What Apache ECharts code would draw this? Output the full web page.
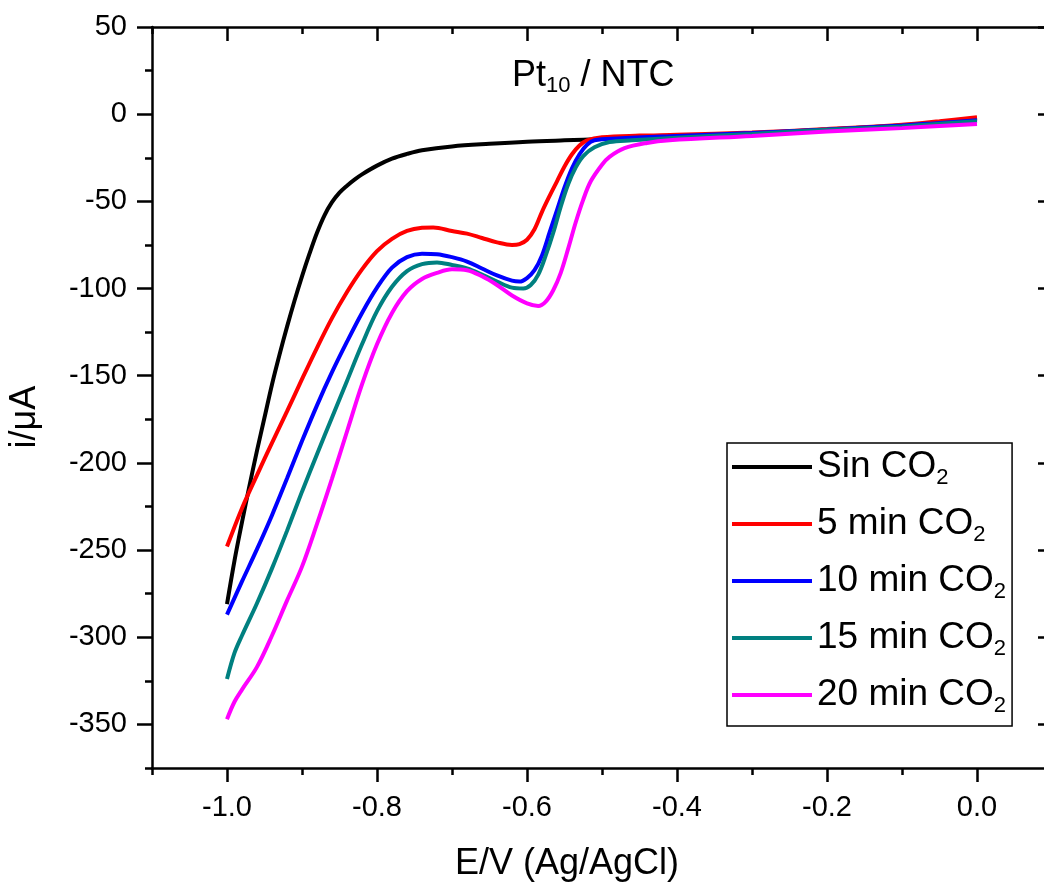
<!DOCTYPE html>
<html>
<head>
<meta charset="utf-8">
<script src="https://cdn.jsdelivr.net/npm/echarts@6/dist/echarts.min.js"></script>
<style>
  html, body { margin: 0; padding: 0; background: #ffffff; }
  #chart { width: 1044px; height: 883px; }
</style>
</head>
<body>
<div id="chart"></div>
<script>
// Linear sweep voltammograms of Pt10 / NTC under increasing CO2 bubbling time.
const FONT = '"Liberation Sans", Arial, sans-serif';

const seriesNames = ['Sin CO2', '5 min CO2', '10 min CO2', '15 min CO2', '20 min CO2'];
const seriesColors = ['#000000', '#ff0000', '#0000ff', '#008080', '#ff00ff'];

// [E (V vs Ag/AgCl), i (µA)]
const sinCO2 = [
  [-1.0, -281], [-0.99, -256], [-0.98, -234], [-0.97, -213], [-0.96, -193],
  [-0.95, -174], [-0.94, -155], [-0.93, -138], [-0.92, -122], [-0.91, -107],
  [-0.90, -93], [-0.89, -80], [-0.88, -68], [-0.87, -58], [-0.86, -50.5],
  [-0.85, -45], [-0.84, -41], [-0.83, -37.5], [-0.82, -34.5], [-0.80, -29.5],
  [-0.78, -25.5], [-0.76, -22.8], [-0.74, -20.7], [-0.70, -18.5], [-0.65, -17],
  [-0.60, -15.8], [-0.55, -15], [-0.50, -14.3], [-0.40, -12.8], [-0.30, -11],
  [-0.20, -8.8], [-0.10, -6.5], [-0.05, -5], [0.0, -2.5]
];
const co2_5min = [
  [-1.0, -248], [-0.98, -226], [-0.96, -207], [-0.94, -188.5], [-0.92, -170.5],
  [-0.90, -152], [-0.88, -134], [-0.86, -117], [-0.84, -102], [-0.82, -89],
  [-0.80, -78.5], [-0.78, -71.5], [-0.76, -67], [-0.74, -65.2], [-0.725, -65],
  [-0.70, -67], [-0.68, -68.5], [-0.66, -71], [-0.64, -73.5], [-0.62, -75],
  [-0.61, -74.5], [-0.60, -72], [-0.59, -66], [-0.58, -56], [-0.57, -47],
  [-0.56, -38.5], [-0.55, -30], [-0.54, -23], [-0.53, -18], [-0.52, -15],
  [-0.50, -13.2], [-0.45, -12.3], [-0.40, -11.8], [-0.30, -10.5], [-0.20, -8.5],
  [-0.10, -6], [-0.05, -4], [0.0, -1.7]
];
const co2_10min = [
  [-1.0, -287], [-0.98, -268], [-0.96, -249.5], [-0.94, -230], [-0.92, -209],
  [-0.90, -187.5], [-0.88, -167], [-0.86, -148], [-0.84, -130.5], [-0.82, -114],
  [-0.80, -99.5], [-0.78, -88], [-0.76, -82], [-0.74, -80], [-0.72, -80.3],
  [-0.70, -82], [-0.68, -84.5], [-0.66, -88.5], [-0.64, -92.5], [-0.62, -95.5],
  [-0.61, -96], [-0.60, -94], [-0.59, -89.5], [-0.58, -81], [-0.57, -68],
  [-0.56, -55], [-0.55, -42], [-0.54, -31], [-0.53, -23], [-0.52, -17.5],
  [-0.51, -15], [-0.48, -14], [-0.40, -12.5], [-0.30, -10.8], [-0.20, -8.8],
  [-0.10, -6.5], [-0.05, -5], [0.0, -3.5]
];
const co2_15min = [
  [-1.0, -324], [-0.99, -309], [-0.98, -299], [-0.96, -280.5], [-0.94, -260.5],
  [-0.92, -239], [-0.90, -216.5], [-0.88, -195], [-0.86, -174], [-0.84, -153],
  [-0.82, -132], [-0.80, -113], [-0.78, -99], [-0.76, -90], [-0.74, -86],
  [-0.72, -85], [-0.70, -86.5], [-0.68, -88.5], [-0.66, -92], [-0.64, -96],
  [-0.62, -99.5], [-0.605, -100], [-0.595, -98], [-0.585, -92], [-0.575, -81],
  [-0.565, -68], [-0.555, -53], [-0.545, -40], [-0.535, -30.5], [-0.525, -24],
  [-0.51, -19], [-0.49, -16], [-0.46, -15], [-0.40, -13.5], [-0.30, -11.3],
  [-0.20, -9], [-0.10, -7], [-0.05, -5.5], [0.0, -4]
];
const co2_20min = [
  [-1.0, -347], [-0.99, -337], [-0.98, -330], [-0.96, -317], [-0.94, -299],
  [-0.92, -279], [-0.90, -259.5], [-0.88, -235], [-0.86, -209], [-0.84, -182],
  [-0.82, -155], [-0.80, -132], [-0.78, -114], [-0.76, -101.5], [-0.74, -94.5],
  [-0.72, -91], [-0.70, -89], [-0.68, -89.5], [-0.66, -93], [-0.64, -98],
  [-0.62, -104], [-0.60, -108.5], [-0.585, -110], [-0.575, -107.5], [-0.565, -101],
  [-0.555, -91], [-0.545, -77], [-0.535, -62], [-0.525, -49], [-0.515, -38.5],
  [-0.50, -29], [-0.49, -24.5], [-0.47, -19.5], [-0.44, -16.5], [-0.41, -15],
  [-0.30, -12.5], [-0.20, -10], [-0.10, -8], [-0.05, -6.8], [0.0, -5.7]
];
const seriesValues = [sinCO2, co2_5min, co2_10min, co2_15min, co2_20min];

// Axis ranges and tick positions
const xRange = [-1.1, 0.1];
const yRange = [-375, 50];
const xMajorTicks = [-1.0, -0.8, -0.6, -0.4, -0.2, 0.0];
const xMinorTicks = [-1.1, -0.9, -0.7, -0.5, -0.3, -0.1, 0.1];
const yMajorTicks = [-350, -300, -250, -200, -150, -100, -50, 0, 50];
const yMinorTicks = [-375, -325, -275, -225, -175, -125, -75, -25, 25];

const chart = echarts.init(document.getElementById('chart'), null, { renderer: 'canvas' });

const AXIS_W = 2.5;
function makeAxis(kind, position, ticks, tickLen, inside, showLine, labelOpts) {
  const range = kind === 'x' ? xRange : yRange;
  return {
    type: 'value',
    position: position,
    min: range[0],
    max: range[1],
    scale: true,
    axisLine: { show: showLine, onZero: false, lineStyle: { color: '#000', width: AXIS_W } },
    axisTick: {
      show: true, inside: inside, length: tickLen, customValues: ticks,
      lineStyle: { color: '#000', width: AXIS_W }
    },
    minorTick: { show: false },
    splitLine: { show: false },
    axisLabel: labelOpts ? Object.assign({ customValues: ticks }, labelOpts) : { show: false }
  };
}

const xLabel = {
  show: true, color: '#000', fontFamily: FONT, fontSize: 29, margin: 25,
  formatter: v => v.toFixed(1)
};
const yLabel = {
  show: true, color: '#000', fontFamily: FONT, fontSize: 29, margin: 25,
  formatter: v => String(Math.round(v))
};

const subRich = (size) => ({
  sub: { fontFamily: FONT, fontSize: size, lineHeight: 1, verticalAlign: 'bottom', color: '#000' }
});

const option = {
  backgroundColor: '#ffffff',
  animation: false,
  grid: {
    left: 152, top: 27, width: 900, height: 741,
    containLabel: false, outerBoundsMode: 'none'
  },
  xAxis: [
    makeAxis('x', 'bottom', xMajorTicks, 14, false, true, xLabel),
    makeAxis('x', 'bottom', xMinorTicks, 7, false, false, null),
    makeAxis('x', 'top', xMajorTicks, 14, true, true, null),
    makeAxis('x', 'top', xMinorTicks, 7, true, false, null)
  ],
  yAxis: [
    makeAxis('y', 'left', yMajorTicks, 15, false, true, yLabel),
    makeAxis('y', 'left', yMinorTicks, 7, false, false, null),
    makeAxis('y', 'right', yMajorTicks, 14, true, true, null),
    makeAxis('y', 'right', yMinorTicks, 7, true, false, null)
  ],
  legend: {
    orient: 'vertical',
    left: 727,
    top: 443,
    padding: [2, 6, 9, 5],
    itemGap: 13,
    itemWidth: 80,
    itemHeight: 4,
    itemTextGap: 10,
    icon: 'rect',
    selectedMode: false,
    borderColor: '#000',
    borderWidth: 1.5,
    borderRadius: 0,
    backgroundColor: '#fff',
    data: seriesNames,
    formatter: name => name.replace('CO2', 'CO{sub|2}'),
    textStyle: {
      color: '#000', fontFamily: FONT, fontSize: 37, lineHeight: 44,
      rich: subRich(22)
    }
  },
  graphic: [
    {
      type: 'text', x: 512, y: 76, z: 10,
      style: {
        text: 'Pt{sub|10} / NTC',
        fill: '#000', fontFamily: FONT, fontSize: 36, lineHeight: 41,
        align: 'left', verticalAlign: 'middle',
        rich: subRich(22)
      }
    },
    {
      type: 'text', x: 567, y: 864, z: 10,
      style: {
        text: 'E/V (Ag/AgCl)', fill: '#000', fontFamily: FONT, fontSize: 36,
        align: 'center', verticalAlign: 'middle'
      }
    },
    {
      type: 'text', x: 25, y: 417, rotation: Math.PI / 2, z: 10,
      style: {
        text: 'i/\u03bcA', fill: '#000', fontFamily: FONT, fontSize: 36,
        align: 'center', verticalAlign: 'middle'
      }
    }
  ],
  series: seriesNames.map((name, k) => ({
    name: name,
    type: 'line',
    xAxisIndex: 0,
    yAxisIndex: 0,
    data: seriesValues[k],
    showSymbol: false,
    smooth: 0.35,
    clip: false,
    color: seriesColors[k],
    itemStyle: { color: seriesColors[k] },
    lineStyle: { color: seriesColors[k], width: 4 },
    emphasis: { disabled: true }
  }))
};

chart.setOption(option);
</script>
</body>
</html>
